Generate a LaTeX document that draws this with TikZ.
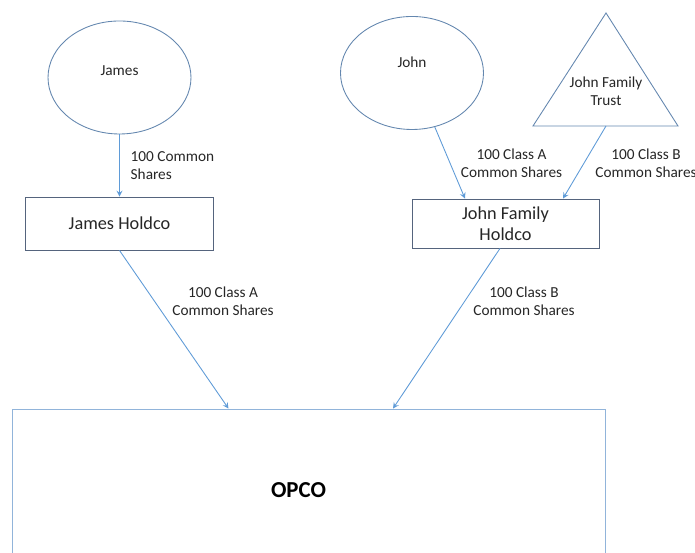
\documentclass[tikz,border=0pt]{standalone}
\usepackage{fontspec}
\setmainfont{Carlito}
\usepackage{xcolor}
\usetikzlibrary{shapes.geometric}

\definecolor{ownerblue}{RGB}{100,135,175}
\definecolor{boxgray}{RGB}{85,100,125}
\definecolor{opcoblue}{RGB}{145,180,218}
\definecolor{arrowblue}{RGB}{95,155,215}

\newcommand{\sharesize}{\fontsize{8.7}{10.2}\selectfont}
\newcommand{\boxsize}{\fontsize{10.4}{12}\selectfont}

\begin{document}
\begin{tikzpicture}[
        owner/.style={draw=ownerblue, line width=0.5pt, ellipse, minimum width=2.86cm, minimum height=2.26cm, inner sep=0pt},
        holdco/.style={draw=boxgray, line width=0.5pt, align=center, font=\boxsize, text=black!85},
        share/.style={-stealth, draw=arrowblue, line width=0.5pt},
        sharelabel/.style={align=center, font=\sharesize, text=black!85}
    ]
        \useasboundingbox (0,0) rectangle (13.9,11.06);

        \node[owner, label={[sharelabel, name=jamestext, yshift=0.13cm]center:James}] (james) at (2.39,9.51) {};
        \node[owner, label={[sharelabel, name=johntext, yshift=0.21cm]center:John}] (john) at (8.24,9.60) {};

        \coordinate (trustapex) at (12.12,10.80);
        \coordinate (trustleft) at (10.66,8.54);
        \coordinate (trustright) at (13.56,8.54);
        \coordinate (trustbase) at (12.12,8.54);
        \draw[draw=ownerblue, line width=0.5pt] (trustapex) -- (trustright) -- (trustleft) -- cycle;
        \node[sharelabel] (trust) at (12.12,9.24) {John Family\\Trust};

        \node[holdco, minimum width=3.76cm, minimum height=1.06cm] (jamesholdco) at (2.39,6.59) {James Holdco};
        \node[holdco, minimum width=3.74cm, minimum height=0.98cm] (johnholdco) at (10.11,6.59) {John Family\\Holdco};

        \node[draw=opcoblue, line width=0.5pt, minimum width=11.86cm, minimum height=3.24cm,
            label={[name=opcotext, font=\fontsize{13}{15}\selectfont\bfseries, xshift=-0.2cm]center:OPCO}] (opco) at (6.17,1.26) {};

        \draw[share] (james) -- (jamesholdco);
        \draw[share] (john) -- ([xshift=-0.81cm]johnholdco.north);
        \draw[share] (trustbase) -- ([xshift=1.15cm]johnholdco.north);
        \draw[share] (jamesholdco.south) -- ([xshift=-1.6cm]opco.north);
        \draw[share] ([xshift=-0.11cm]johnholdco.south) -- ([xshift=1.69cm]opco.north);

        \node[sharelabel, align=left, anchor=west] (jamesshares) at (2.49,7.74) {100 Common\\Shares};
        \node[sharelabel] (johnshares) at (10.23,7.80) {100 Class A\\Common Shares};
        \node[sharelabel] (trustshares) at (12.92,7.80) {100 Class B\\Common Shares};
        \node[sharelabel] (opcoshareA) at (4.46,5.04) {100 Class A\\Common Shares};
        \node[sharelabel] (opcoshareB) at (10.48,5.04) {100 Class B\\Common Shares};
    \end{tikzpicture}
\end{document}
